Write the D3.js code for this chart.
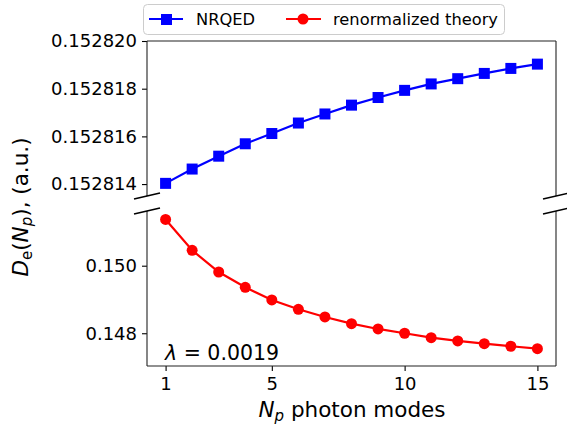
<!DOCTYPE html>
<html>
<head>
<meta charset="utf-8">
<script src="https://cdn.jsdelivr.net/npm/d3@7"></script>
<style>
  body { margin: 0; background: #fff; }
  svg text { font-family: "DejaVu Sans", sans-serif; }
  .tick text { font-size: 18px; fill: #000; }
</style>
</head>
<body>
<svg id="myGraph" width="567" height="429"></svg>
<script>
// photon modes
let modes = [1, 2, 3, 4, 5, 6, 7, 8, 9, 10, 11, 12, 13, 14, 15];
// NRQED
let nrqed = [0.15281403, 0.15281463, 0.15281517, 0.15281569, 0.15281612,
             0.15281656, 0.15281694, 0.15281731, 0.15281763, 0.15281793,
             0.15281820, 0.15281842, 0.15281864, 0.15281885, 0.15281903];
// renormalized theory
let renorm = [0.151370, 0.150456, 0.149814, 0.149361, 0.148985,
              0.148710, 0.148482, 0.148284, 0.148127, 0.148000,
              0.147870, 0.147772, 0.147692, 0.147615, 0.147544];
let xTicks = [1, 5, 10, 15];
let topTicks = [0.152814, 0.152816, 0.152818, 0.152820];
let bottomTicks = [0.148, 0.150];

let svg = d3.select("#myGraph");
let left = 147, right = 556;

let xScale = d3.scaleLinear().domain([0.3, 15.7]).range([left, right]);
let yTop = d3.scaleLinear().domain([0.1528135, 0.15282]).range([196, 41]);
let yBot = d3.scaleLinear().domain([0.14703, 0.15162]).range([366, 211]);

/* 軸 */
svg.append("g")
  .attr("transform", "translate(" + left + ",0)")
  .call(d3.axisLeft(yTop).tickValues(topTicks).tickFormat(d3.format(".6f")).tickSize(5).tickPadding(5));
svg.append("g")
  .attr("transform", "translate(" + left + ",0)")
  .call(d3.axisLeft(yBot).tickValues(bottomTicks).tickFormat(d3.format(".3f")).tickSize(5).tickPadding(5));
svg.append("g")
  .attr("transform", "translate(0,366)")
  .call(d3.axisBottom(xScale).tickValues(xTicks).tickFormat(d3.format("d")).tickSize(5).tickPadding(6));
svg.selectAll(".domain").remove();
svg.selectAll(".tick line").attr("stroke", "#000").attr("stroke-width", 1.1);

// spines
let spine = "#222";
function seg(x1, y1, x2, y2) {
  svg.append("line")
    .attr("x1", x1).attr("y1", y1).attr("x2", x2).attr("y2", y2)
    .attr("stroke", spine).attr("stroke-width", 1.1);
}
seg(left, 41, right, 41);
seg(left, 41, left, 196);
seg(right, 41, right, 196);
seg(left, 211, left, 366);
seg(right, 211, right, 366);
seg(left, 366, right, 366);

// break marks
[left, right].forEach(function(x){
  [196, 211].forEach(function(y){
    svg.append("line")
      .attr("x1", x - 13).attr("y1", y + 3)
      .attr("x2", x + 13).attr("y2", y - 3)
      .attr("stroke", "#000").attr("stroke-width", 1.6);
  });
});

// lines
let lineTop = d3.line().x(function(d, i){ return xScale(modes[i]); }).y(function(d){ return yTop(d); });
let lineBot = d3.line().x(function(d, i){ return xScale(modes[i]); }).y(function(d){ return yBot(d); });

svg.append("path").datum(nrqed)
  .attr("d", lineTop).attr("fill", "none").attr("stroke", "#0000ff").attr("stroke-width", 2.2);
svg.selectAll("rect.nrqed")
  .data(nrqed)
  .enter()
  .append("rect")
  .attr("class", "nrqed")
  .attr("x", function(d, i){ return xScale(modes[i]) - 5.5; })
  .attr("y", function(d){ return yTop(d) - 5.5; })
  .attr("width", 11).attr("height", 11)
  .attr("fill", "#0000ff");

svg.append("path").datum(renorm)
  .attr("d", lineBot).attr("fill", "none").attr("stroke", "#ff0000").attr("stroke-width", 2.2);
svg.selectAll("circle.renorm")
  .data(renorm)
  .enter()
  .append("circle")
  .attr("class", "renorm")
  .attr("cx", function(d, i){ return xScale(modes[i]); })
  .attr("cy", function(d){ return yBot(d); })
  .attr("r", 5.5)
  .attr("fill", "#ff0000");

// lambda
let lam = svg.append("text").attr("x", 165).attr("y", 360).attr("font-size", 20.5);
lam.append("tspan").attr("font-style", "italic").text("λ");
lam.append("tspan").text(" = 0.0019");

// axis labels
let xl = svg.append("text").attr("x", 352).attr("y", 417).attr("text-anchor", "middle").attr("font-size", 21.5);
xl.append("tspan").attr("font-style", "italic").text("N");
xl.append("tspan").attr("font-style", "italic").attr("font-size", 15).attr("dy", 4).text("p");
xl.append("tspan").attr("dy", -4).text(" photon modes");

let yl = svg.append("text").attr("transform", "translate(28,207) rotate(-90)").attr("text-anchor", "middle").attr("font-size", 21.5);
yl.append("tspan").attr("font-style", "italic").text("D");
yl.append("tspan").attr("font-size", 15).attr("dy", 4).text("e");
yl.append("tspan").attr("dy", -4).text("(");
yl.append("tspan").attr("font-style", "italic").text("N");
yl.append("tspan").attr("font-style", "italic").attr("font-size", 15).attr("dy", 4).text("p");
yl.append("tspan").attr("dy", -4).text("), (a.u.)");

// legend
let lg = svg.append("g");
lg.append("rect").attr("x", 143.5).attr("y", 4.5).attr("width", 361).attr("height", 30)
  .attr("rx", 4).attr("fill", "#fff").attr("stroke", "#ccc");
lg.append("line").attr("x1", 149).attr("x2", 183).attr("y1", 19).attr("y2", 19)
  .attr("stroke", "#0000ff").attr("stroke-width", 2.2);
lg.append("rect").attr("x", 161).attr("y", 14).attr("width", 11).attr("height", 11).attr("fill", "#0000ff");
lg.append("text").attr("x", 196).attr("y", 25).attr("font-size", 16.3).text("NRQED");
lg.append("line").attr("x1", 286).attr("x2", 321).attr("y1", 19).attr("y2", 19)
  .attr("stroke", "#ff0000").attr("stroke-width", 2.2);
lg.append("circle").attr("cx", 303).attr("cy", 19).attr("r", 5.5).attr("fill", "#ff0000");
lg.append("text").attr("x", 333).attr("y", 25).attr("font-size", 16.3).text("renormalized theory");
</script>
</body>
</html>
